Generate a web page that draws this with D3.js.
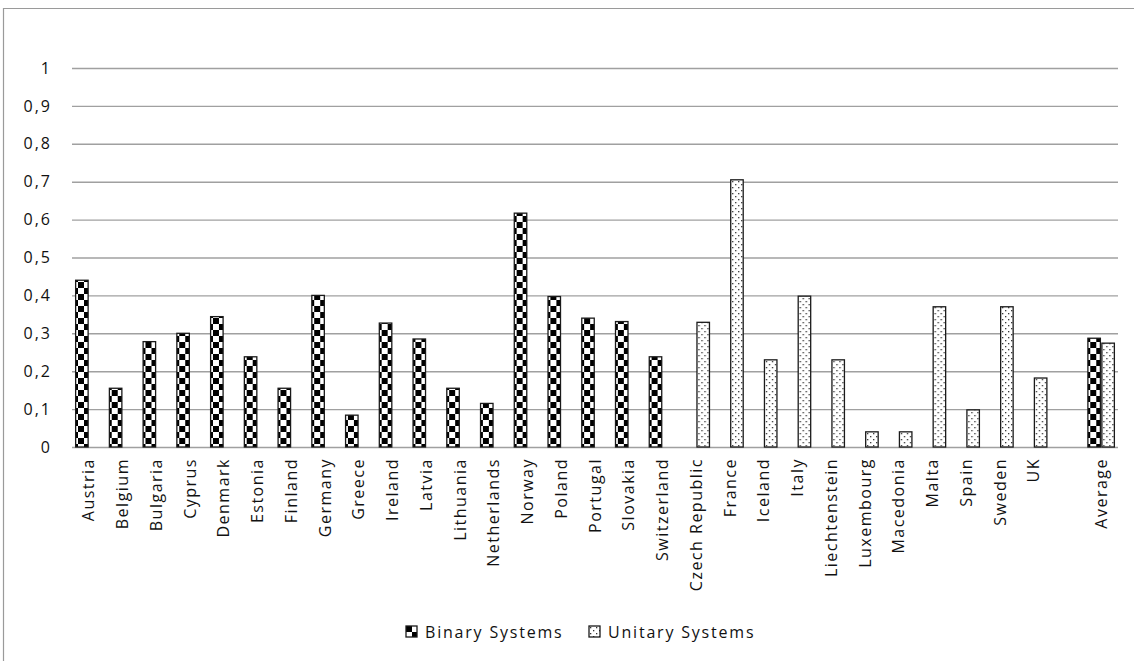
<!DOCTYPE html>
<html>
<head>
<meta charset="utf-8">
<script src="https://cdn.jsdelivr.net/npm/d3@7/dist/d3.min.js"></script>
<style>
  html, body { margin: 0; padding: 0; background: #fff; }
  svg { display: block; }
  text { font-family: "Open Sans", "Noto Sans", sans-serif; fill: #111; }
</style>
</head>
<body>
<svg id="chart" width="1134" height="661"></svg>
<script>
// Countries, grouped by higher-education system type; "" is a spacer slot.
const categories = [
  "Austria", "Belgium", "Bulgaria", "Cyprus", "Denmark", "Estonia", "Finland",
  "Germany", "Greece", "Ireland", "Latvia", "Lithuania", "Netherlands", "Norway",
  "Poland", "Portugal", "Slovakia", "Switzerland",
  "Czech Republic", "France", "Iceland", "Italy", "Liechtenstein", "Luxembourg",
  "Macedonia", "Malta", "Spain", "Sweden", "UK",
  "", "Average"
];

// Binary systems (null where the country has a unitary system)
const binaryValues = [
  0.44, 0.155, 0.278, 0.30, 0.344, 0.238, 0.155,
  0.40, 0.084, 0.327, 0.285, 0.155, 0.115, 0.617,
  0.397, 0.34, 0.331, 0.238,
  null, null, null, null, null, null,
  null, null, null, null, null,
  null, 0.287
];

// Unitary systems (null where the country has a binary system)
const unitaryValues = [
  null, null, null, null, null, null, null,
  null, null, null, null, null, null, null,
  null, null, null, null,
  0.329, 0.705, 0.23, 0.398, 0.23, 0.04,
  0.04, 0.37, 0.098, 0.37, 0.182,
  null, 0.274
];

const seriesNames = ["Binary Systems", "Unitary Systems"];
const yTicks = [0, 0.1, 0.2, 0.3, 0.4, 0.5, 0.6, 0.7, 0.8, 0.9, 1];

const svg = d3.select("#chart");
const W = 1134, H = 661;

// Outer chart frame (top and left edges visible)
svg.append("path")
  .attr("d", `M3.5,${H} V8.5 H${W}`)
  .attr("fill", "none")
  .attr("stroke", "#9a9a9a")
  .attr("stroke-width", 1.2);

// Fill patterns
const defs = svg.append("defs");
const sq = 6;
const checker = defs.append("pattern")
  .attr("id", "checker")
  .attr("patternUnits", "userSpaceOnUse")
  .attr("width", sq * 2).attr("height", sq * 2);
checker.append("rect").attr("width", sq * 2).attr("height", sq * 2).attr("fill", "#fff");
checker.append("rect").attr("x", 0).attr("y", 0).attr("width", sq).attr("height", sq).attr("fill", "#000");
checker.append("rect").attr("x", sq).attr("y", sq).attr("width", sq).attr("height", sq).attr("fill", "#000");

const dots = defs.append("pattern")
  .attr("id", "dots")
  .attr("patternUnits", "userSpaceOnUse")
  .attr("width", 6).attr("height", 6);
dots.append("rect").attr("width", 6).attr("height", 6).attr("fill", "#fff");
dots.append("rect").attr("x", 1).attr("y", 1).attr("width", 1.3).attr("height", 1.3).attr("fill", "#333");
dots.append("rect").attr("x", 4).attr("y", 4).attr("width", 1.3).attr("height", 1.3).attr("fill", "#333");

const fills = ["url(#checker)", "url(#dots)"];

// Scales
const x0 = d3.scaleBand().domain(d3.range(categories.length)).range([72, 1118]).padding(0);
const x1 = d3.scaleBand().domain([0, 1]).range([0, x0.bandwidth()])
  .paddingInner(0.107).paddingOuter(0.26);
const y = d3.scaleLinear().domain([0, 1]).range([447, 68]);

const fmt = v => d3.format("~g")(v).replace(".", ",");

// Gridlines
const yAxis = d3.axisLeft(y).tickValues(yTicks).tickSize(-(1118 - 72)).tickFormat(fmt).tickPadding(20);
const gy = svg.append("g").attr("transform", "translate(72,0)").call(yAxis);
gy.select(".domain").remove();
gy.selectAll(".tick line").attr("stroke", "#a0a0a0").attr("stroke-width", 1.4);
gy.selectAll(".tick text")
  .attr("x", -20)
  .style("font-size", "16px")
  .style("letter-spacing", "2px")
  .attr("fill", "#111");

// Bars
const rows = categories.map((c, i) => ({ i, vals: [binaryValues[i], unitaryValues[i]] }));
const groups = svg.append("g").selectAll("g").data(rows).join("g")
  .attr("transform", d => `translate(${x0(d.i)},0)`);
groups.selectAll("rect")
  .data(d => d.vals.map((v, s) => ({ s, v })).filter(e => e.v != null))
  .join("rect")
  .attr("x", e => x1(e.s))
  .attr("y", e => y(e.v))
  .attr("width", x1.bandwidth())
  .attr("height", e => y(0) - y(e.v))
  .attr("fill", e => fills[e.s])
  .attr("stroke", "#1a1a1a")
  .attr("stroke-width", 1.3);

// Category labels
const xAxis = d3.axisBottom(x0).tickFormat(i => categories[i]).tickSize(0);
const gx = svg.append("g").attr("transform", "translate(0,447)").call(xAxis);
gx.select(".domain").remove();
gx.selectAll(".tick text")
  .attr("transform", "rotate(-90)")
  .attr("text-anchor", "end")
  .attr("x", -11)
  .attr("y", 0)
  .attr("dy", "0.35em")
  .style("font-size", "16px")
  .style("letter-spacing", "1.5px")
  .attr("fill", "#111");

// Legend
const legend = svg.append("g");
const legendItems = [
  { name: seriesNames[0], fill: fills[0], x: 406 },
  { name: seriesNames[1], fill: fills[1], x: 589 }
];
const li = legend.selectAll("g").data(legendItems).join("g")
  .attr("transform", d => `translate(${d.x},626)`);
li.append("rect")
  .attr("width", 11).attr("height", 11)
  .attr("fill", d => d.fill)
  .attr("stroke", "#1a1a1a").attr("stroke-width", 1.3);
li.append("text")
  .attr("x", 19).attr("y", 6).attr("dy", "0.35em")
  .style("font-size", "16px")
  .style("letter-spacing", "1.8px")
  .text(d => d.name);
</script>
</body>
</html>
